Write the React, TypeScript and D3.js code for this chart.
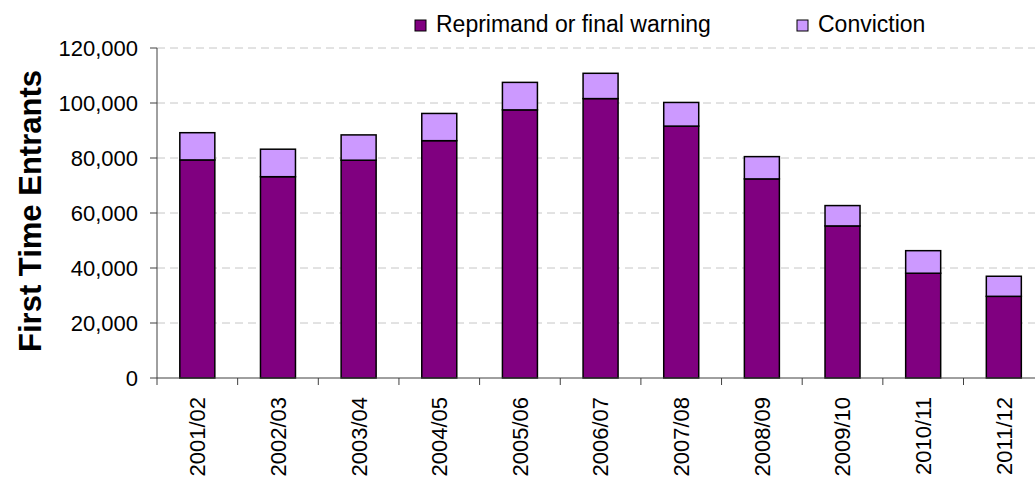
import React from 'react';
import * as d3 from 'd3';

const years = ['2001/02', '2002/03', '2003/04', '2004/05', '2005/06', '2006/07', '2007/08', '2008/09', '2009/10', '2010/11', '2011/12'];
const reprimand = [79300, 73200, 79200, 86300, 97500, 101600, 91600, 72400, 55300, 38100, 29700];
const conviction = [9900, 10000, 9200, 9900, 10000, 9200, 8600, 8100, 7400, 8200, 7300];
const yTicks = [0, 20000, 40000, 60000, 80000, 100000, 120000];
const seriesNames = ['Reprimand or final warning', 'Conviction'];
const seriesColors = ['#800080', '#CC99FF'];

const W = 1035;
const H = 477;
const left = 157;
const top = 48;
const bottom = 378;
const step = 80.65;
const font = '"Liberation Sans", Arial, sans-serif';

export default function App(): JSX.Element {
  const x = d3
    .scaleBand()
    .domain(years)
    .range([left, left + step * years.length])
    .paddingInner(0.566)
    .paddingOuter(0.283);
  const y = d3.scaleLinear().domain([0, 120000]).range([bottom, top]);
  const fmt = d3.format(',');

  const stacked = years.map((yr, i) => ({ yr, r: reprimand[i], c: conviction[i] }));
  const bounds = d3.range(years.length + 1).map((i) => left + i * x.step());

  return (
    <div style={{ position: 'absolute', left: 0, top: 0 }}>
      <svg width={W} height={H} style={{ display: 'block', background: '#fff' }}>
        {/* grid */}
        {yTicks.slice(1).map((t) => (
          <line key={t} x1={left} x2={W} y1={y(t)} y2={y(t)} stroke="#c6c6c6" strokeWidth={1} strokeDasharray="8,5" />
        ))}
        {/* bars */}
        {stacked.map((d) => (
          <g key={d.yr}>
            <rect x={x(d.yr)} y={y(d.r)} width={x.bandwidth()} height={y(0) - y(d.r)} fill={seriesColors[0]} stroke="#000" strokeWidth={1.5} />
            <rect x={x(d.yr)} y={y(d.r + d.c)} width={x.bandwidth()} height={y(d.r) - y(d.r + d.c)} fill={seriesColors[1]} stroke="#000" strokeWidth={1.5} />
          </g>
        ))}
        {/* y axis */}
        <line x1={left} x2={left} y1={top} y2={bottom} stroke="#404040" strokeWidth={1} />
        {yTicks.map((t) => (
          <g key={t}>
            <line x1={left - 7} x2={left} y1={y(t)} y2={y(t)} stroke="#404040" />
            <text x={left - 19} y={y(t)} dy="0.36em" textAnchor="end" fontFamily={font} fontSize={22} fill="#000">
              {fmt(t)}
            </text>
          </g>
        ))}
        {/* x axis */}
        <line x1={left} x2={W} y1={bottom} y2={bottom} stroke="#404040" strokeWidth={1} />
        {bounds.map((b, i) => (
          <line key={i} x1={b} x2={b} y1={bottom} y2={bottom + 7} stroke="#404040" />
        ))}
        {years.map((yr) => {
          const cx = (x(yr) as number) + x.bandwidth() / 2;
          return (
            <text key={yr} transform={`translate(${cx},397) rotate(-90)`} dy="0.36em" textAnchor="end" fontFamily={font} fontSize={22} fill="#000">
              {yr}
            </text>
          );
        })}
        {/* y title */}
        <text transform="translate(30,211) rotate(-90)" dy="0.36em" textAnchor="middle" fontFamily={font} fontSize={31} fontWeight="bold" fill="#000">
          First Time Entrants
        </text>
        {/* legend */}
        {seriesNames.map((name, i) => {
          const lx = i === 0 ? 415 : 797;
          return (
            <g key={name}>
              <rect x={lx} y={20} width={11} height={11} fill={seriesColors[i]} stroke="#000" strokeWidth={1} />
              <text x={lx + 21} y={32} fontFamily={font} fontSize={23} fill="#000">
                {name}
              </text>
            </g>
          );
        })}
      </svg>
    </div>
  );
}
